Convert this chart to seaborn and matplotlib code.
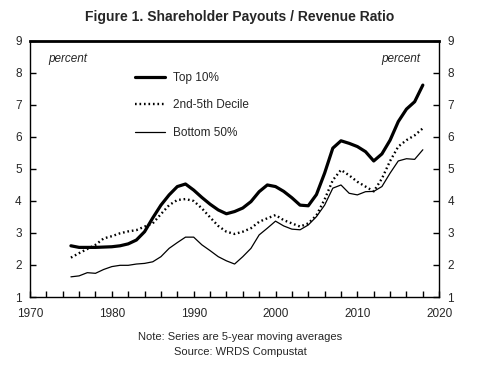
import pandas as pd
import matplotlib
matplotlib.use("Agg")
import matplotlib.pyplot as plt
import seaborn as sns
from matplotlib.ticker import MultipleLocator

# Data (5-year moving averages, percent)
YEARS = list(range(1975, 2019))
TOP_10 = [2.60, 2.55, 2.55, 2.55, 2.56, 2.57, 2.60, 2.66, 2.78, 3.04,
          3.47, 3.87, 4.19, 4.45, 4.53, 4.34, 4.11, 3.90, 3.72, 3.60,
          3.67, 3.78, 3.98, 4.29, 4.50, 4.45, 4.30, 4.10, 3.87, 3.85,
          4.20, 4.87, 5.65, 5.88, 5.80, 5.70, 5.54, 5.25, 5.47, 5.90,
          6.48, 6.87, 7.10, 7.62]
DECILE_2_5 = [2.23, 2.37, 2.50, 2.63, 2.83, 2.90, 2.99, 3.05, 3.09, 3.20,
              3.30, 3.59, 3.87, 4.03, 4.06, 4.00, 3.77, 3.49, 3.22, 3.04,
              2.97, 3.04, 3.15, 3.35, 3.46, 3.56, 3.40, 3.30, 3.20, 3.30,
              3.55, 4.05, 4.65, 4.97, 4.80, 4.60, 4.45, 4.30, 4.70, 5.25,
              5.70, 5.90, 6.05, 6.27]
BOTTOM_50 = [1.63, 1.66, 1.76, 1.74, 1.86, 1.95, 1.99, 1.99, 2.03, 2.05,
             2.10, 2.26, 2.52, 2.70, 2.87, 2.87, 2.63, 2.45, 2.26, 2.13,
             2.03, 2.26, 2.52, 2.94, 3.15, 3.37, 3.22, 3.12, 3.10, 3.25,
             3.51, 3.87, 4.40, 4.50, 4.24, 4.19, 4.29, 4.30, 4.45, 4.87,
             5.25, 5.32, 5.30, 5.60]

SERIES = ["Top 10%", "2nd-5th Decile", "Bottom 50%"]

df = pd.DataFrame({"Year": YEARS, SERIES[0]: TOP_10,
                   SERIES[1]: DECILE_2_5, SERIES[2]: BOTTOM_50})
long_df = df.melt(id_vars="Year", var_name="Series", value_name="Ratio")

sns.set_style("ticks")
plt.rcParams["font.family"] = ["Liberation Sans", "DejaVu Sans"]

fig = plt.figure(figsize=(4.8, 3.72), dpi=100)
ax = fig.add_axes([0.0625, 0.2016, 0.8525, 0.6884])

styles = {
    SERIES[0]: dict(lw=2.3, ls="-"),
    SERIES[1]: dict(lw=1.7, ls=(0, (0.7, 1.2))),
    SERIES[2]: dict(lw=0.9, ls="-"),
}
for name in SERIES:
    sub = long_df[long_df["Series"] == name]
    sns.lineplot(data=sub, x="Year", y="Ratio", ax=ax, color="black",
                 label=name, linewidth=styles[name]["lw"],
                 linestyle=styles[name]["ls"])

ax.set_xlim(1970, 2020)
ax.set_ylim(1, 9)
ax.xaxis.set_major_locator(MultipleLocator(10))
ax.xaxis.set_minor_locator(MultipleLocator(2))
ax.yaxis.set_major_locator(MultipleLocator(1))
ax.tick_params(axis="x", which="both", direction="in", length=4, width=1,
               labelsize=8.5, pad=8, color="black")
ax.tick_params(axis="y", which="both", direction="in", length=4, width=1,
               labelsize=8.5, left=True, right=True, labelleft=True,
               labelright=True, pad=6, color="black")
ax.set_xlabel("")
ax.set_ylabel("")
for side in ["left", "right", "bottom"]:
    ax.spines[side].set_visible(True)
    ax.spines[side].set_color("black")
    ax.spines[side].set_linewidth(1.0)
ax.spines["top"].set_visible(True)
ax.spines["top"].set_color("black")
ax.spines["top"].set_linewidth(2.0)

leg = ax.legend(loc="upper left", bbox_to_anchor=(0.23, 0.92), frameon=False,
                fontsize=8.5, handlelength=2.6, handletextpad=0.6,
                labelspacing=1.3)

ax.text(0.045, 0.93, "percent", transform=ax.transAxes, style="italic",
        fontsize=8.5, va="center", ha="left")
ax.text(0.955, 0.93, "percent", transform=ax.transAxes, style="italic",
        fontsize=8.5, va="center", ha="right")

fig.text(0.5, 0.955, "Figure 1. Shareholder Payouts / Revenue Ratio",
         ha="center", va="center", fontsize=10, fontweight="bold")
fig.text(0.5, 0.093, "Note: Series are 5-year moving averages",
         ha="center", va="center", fontsize=8)
fig.text(0.5, 0.055, "Source: WRDS Compustat",
         ha="center", va="center", fontsize=8)

fig.savefig("out.png", dpi=100)
